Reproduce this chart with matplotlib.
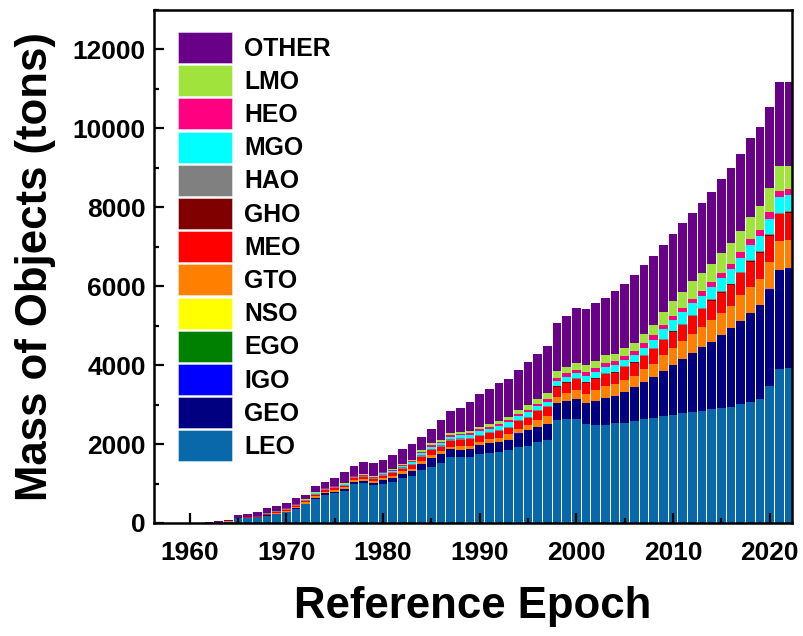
import matplotlib
matplotlib.use("Agg")
import matplotlib.pyplot as plt
from matplotlib.ticker import MultipleLocator
import numpy as np

plt.rcParams["font.family"] = ["Liberation Sans", "DejaVu Sans"]
plt.rcParams["font.weight"] = "bold"

years = list(range(1957, 2023))

leo = [1, 1, 1, 2, 4, 8, 12, 35, 115, 125, 145, 185, 225, 275, 360, 470, 620, 720, 760, 820,
       1000, 1020, 960, 990, 1030, 1130, 1180, 1350, 1430, 1520, 1665, 1670, 1660, 1747, 1780, 1802,
       1842, 1937, 1960, 2044, 2094, 2608, 2625, 2632, 2503, 2490, 2493, 2524, 2541, 2574, 2625, 2666,
       2709, 2734, 2794, 2810, 2844, 2879, 2903, 2945, 3005, 3072, 3147, 3469, 3892, 3916]
geo = [0, 0, 0, 0, 0, 0, 0, 3, 5, 6, 8, 10, 12, 15, 18, 20, 25, 30, 35, 40,
       45, 50, 55, 90, 110, 115, 130, 150, 220, 230, 200, 190, 210, 232, 257, 262,
       267, 331, 395, 395, 420, 423, 468, 518, 527, 607, 664, 699, 784, 861, 937, 1039,
       1148, 1266, 1351, 1486, 1604, 1712, 1857, 1985, 2117, 2252, 2373, 2448, 2508, 2532]
igo = [0] * 33 + [1] * 10 + [2] * 23
ego = [0] * 40 + [1] * 26
nso = [0] * 38 + [1] * 28
gto = [0, 0, 0, 0, 0, 0, 0, 2, 5, 6, 8, 20, 22, 25, 28, 30, 35, 38, 40, 40,
       42, 45, 45, 60, 60, 65, 70, 65, 75, 75, 70, 80, 85, 75, 85, 100,
       135, 115, 115, 165, 185, 170, 193, 220, 241, 274, 303, 292, 300, 290, 333, 325,
       401, 428, 452, 495, 514, 538, 557, 572, 651, 651, 658, 683, 732, 726]
meo = [0, 0, 0, 0, 0, 0, 0, 2, 5, 5, 6, 20, 22, 25, 28, 30, 35, 38, 40, 40,
       42, 45, 45, 60, 65, 70, 85, 110, 115, 110, 150, 170, 170, 150, 150, 170,
       170, 190, 190, 225, 238, 250, 265, 266, 282, 282, 302, 290, 317, 334, 334, 368,
       375, 416, 416, 449, 449, 499, 514, 522, 548, 639, 665, 672, 682, 680]
gho = [0] * 39 + [8] * 13 + [10, 10, 12, 12, 12, 14, 14, 16, 16, 18, 18, 20, 20, 20]
hao = [0, 0, 0, 0, 0, 0, 0, 0, 5, 6, 8, 15, 18, 20, 25, 28, 30, 32, 34, 30,
       30, 30, 30, 40, 40, 40, 40, 40, 40, 40, 35, 35, 35, 30, 30, 30,
       30, 30, 30, 25, 25, 20, 20, 20, 20, 20, 20, 20, 20, 20, 20, 20,
       20, 20, 20, 20, 20, 20, 20, 20, 20, 20, 20, 20, 20, 20]
mgo = [0, 0, 0, 0, 0, 0, 0, 0, 0, 0, 0, 0, 3, 3, 4, 5, 6, 7, 8, 8,
       10, 12, 12, 20, 22, 25, 35, 50, 55, 50, 70, 75, 80, 95, 90, 95,
       110, 110, 115, 100, 95, 108, 126, 126, 145, 144, 170, 169, 167, 176, 177, 201,
       254, 262, 295, 288, 303, 323, 331, 365, 365, 382, 390, 400, 406, 408]
heo = [0, 0, 0, 0, 0, 0, 0, 0, 0, 0, 2, 5, 5, 6, 7, 8, 10, 10, 12, 12,
       13, 14, 15, 20, 20, 22, 25, 30, 32, 32, 35, 38, 40, 45, 45, 45,
       50, 55, 58, 60, 68, 85, 86, 90, 94, 103, 100, 90, 103, 103, 128, 121,
       93, 103, 113, 120, 129, 129, 146, 146, 144, 154, 146, 153, 154, 154]
lmo = [0, 0, 0, 0, 0, 0, 0, 0, 0, 0, 0, 5, 5, 6, 8, 10, 12, 14, 15, 15,
       18, 20, 20, 25, 28, 30, 40, 50, 55, 50, 45, 50, 55, 70, 75, 80,
       85, 95, 130, 128, 155, 175, 165, 170, 168, 180, 185, 190, 190, 200, 223, 255,
       321, 384, 400, 452, 454, 443, 495, 521, 539, 572, 608, 616, 625, 598]
other = [0, 1, 2, 3, 6, 17, 33, 43, 70, 77, 103, 130, 128, 130, 152, 121, 159, 151, 184, 275,
         250, 314, 348, 293, 351, 383, 400, 330, 362, 498, 559, 617, 734, 825, 885, 961,
         950, 1011, 1075, 1129, 1203, 1229, 1288, 1386, 1423, 1462, 1443, 1593, 1628, 1713, 1747, 1757,
         1708, 1694, 1735, 1708, 1782, 1816, 1866, 1889, 1938, 2005, 2009, 2059, 2120, 2119]

series = [
    ("LEO", leo, "#0868a9"),
    ("GEO", geo, "#000080"),
    ("IGO", igo, "#0000ff"),
    ("EGO", ego, "#008000"),
    ("NSO", nso, "#ffff00"),
    ("GTO", gto, "#ff8000"),
    ("MEO", meo, "#ff0000"),
    ("GHO", gho, "#800000"),
    ("HAO", hao, "#808080"),
    ("MGO", mgo, "#00ffff"),
    ("HEO", heo, "#ff0080"),
    ("LMO", lmo, "#a0e33c"),
    ("OTHER", other, "#680088"),
]

fig = plt.figure(figsize=(8.04, 6.36), dpi=100)
ax = fig.add_axes([154 / 804, 1 - 523 / 636, 638 / 804, 513 / 636])

x = np.array(years)
bottom = np.zeros(len(years))
handles = []
for name, vals, color in series:
    v = np.array(vals, dtype=float)
    b = ax.bar(x, v, width=0.9, bottom=bottom, color=color, label=name,
               edgecolor="none", linewidth=0)
    bottom += v
    handles.append(b)

ax.set_xlim(1956.3, 2022.3)
ax.set_ylim(0, 13000)
ax.xaxis.set_major_locator(MultipleLocator(10))
ax.xaxis.set_minor_locator(MultipleLocator(5))
ax.yaxis.set_major_locator(MultipleLocator(2000))
ax.yaxis.set_minor_locator(MultipleLocator(1000))
ax.tick_params(axis="both", which="major", direction="in", length=7, width=1.6,
               labelsize=19)
ax.tick_params(axis="both", which="minor", direction="in", length=3.5, width=1.6)
ax.tick_params(axis="x", which="major", pad=13)
ax.tick_params(axis="y", which="major", pad=6)
for lab in ax.get_xticklabels() + ax.get_yticklabels():
    lab.set_fontweight("bold")
for sp in ax.spines.values():
    sp.set_linewidth(1.8)

ax.set_xlabel("Reference Epoch", fontsize=31.5, fontweight="bold", labelpad=15)
ax.set_ylabel("Mass of Objects (tons)", fontsize=31.5, fontweight="bold", labelpad=12)

leg = ax.legend(handles[::-1], [s[0] for s in series][::-1],
                loc="upper left", bbox_to_anchor=(0.037, 0.957),
                frameon=False, borderpad=0, borderaxespad=0,
                handlelength=2.2, handleheight=1.55, labelspacing=0.09,
                handletextpad=0.5, prop={"size": 17.8, "weight": "bold"})
for p in leg.get_patches():
    p.set_edgecolor((1, 1, 1, 0.5))
    p.set_linewidth(0.6)

fig.savefig("out.png", dpi=100)
